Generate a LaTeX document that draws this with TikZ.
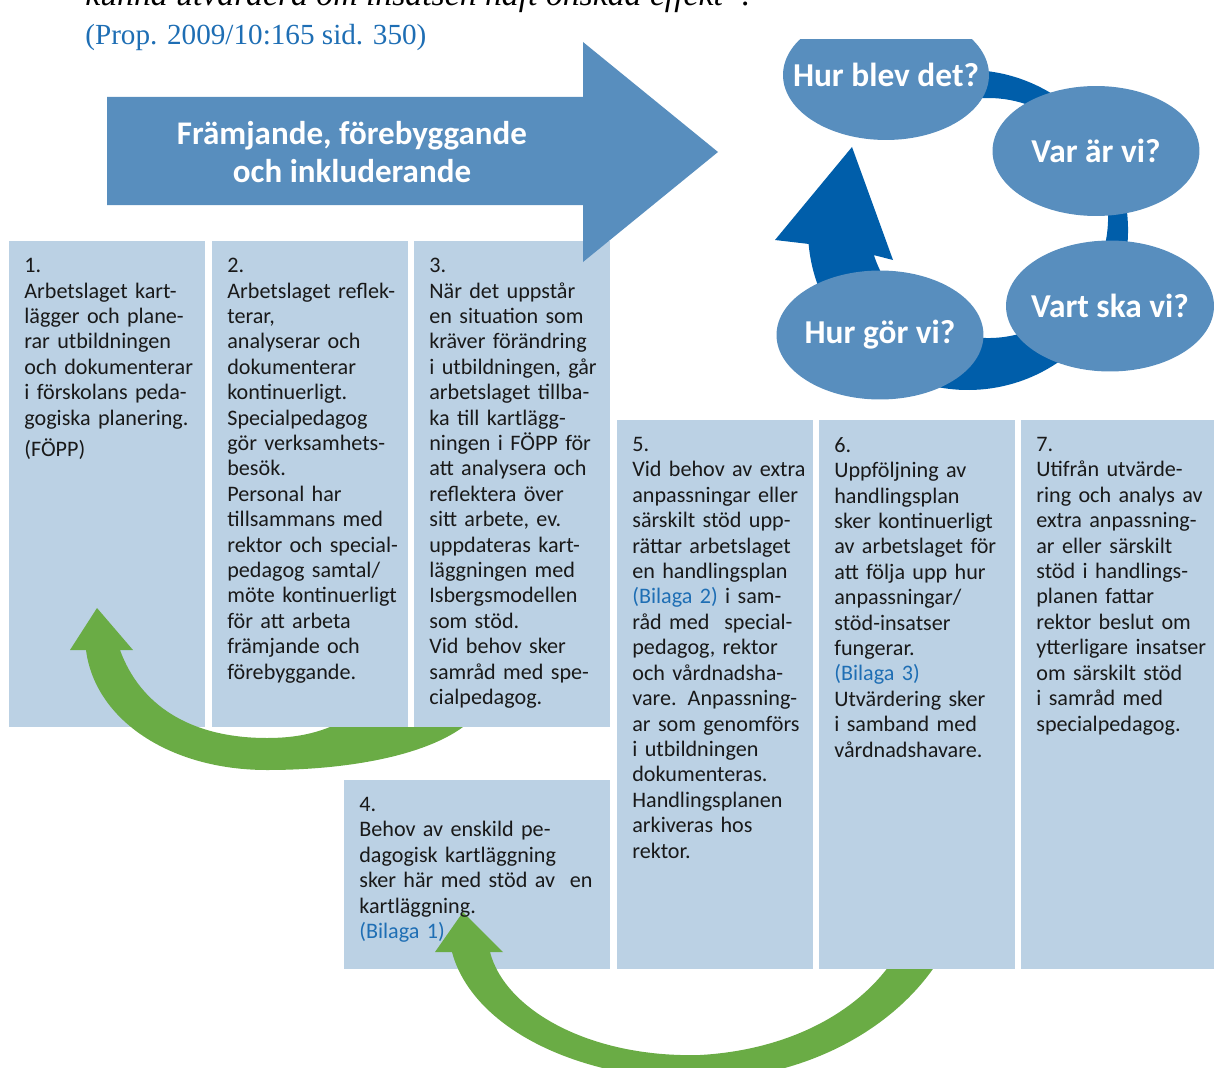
\documentclass[tikz,border=0pt]{standalone}
\usepackage{fontspec}
\setmainfont{Carlito}
\newfontfamily\propfont{Liberation Serif}
\usetikzlibrary{positioning,shapes.geometric}

\definecolor{boxblue}{RGB}{187,209,228}
\definecolor{steelblue}{RGB}{88,142,190}
\definecolor{ringblue}{RGB}{0,94,170}
\definecolor{leafgreen}{RGB}{106,172,69}
\definecolor{linkblue}{RGB}{30,110,180}
\definecolor{inktext}{RGB}{25,25,25}

\tikzset{
  stepbox/.style={fill=boxblue, inner sep=0, anchor=north west},
  steptext/.style={inner sep=0, align=left, text width=5cm, text=inktext,
    font=\fontsize{12.6}{14.46}\selectfont},
  question/.style={ellipse, fill=steelblue, text=white, inner sep=0,
    font=\fontsize{19}{22}\selectfont\bfseries},
}
\newcommand{\bilaga}[1]{\textcolor{linkblue}{(Bilaga #1)}}
\newcommand{\qtext}[1]{\makebox[0pt]{#1}}

\begin{document}
\begin{tikzpicture}[x=0.02cm, y=-0.02cm]
		\useasboundingbox (0,0) rectangle (1214,1068);
		\clip (0,0) rectangle (1214,1068);

		% quote above
		\node[anchor=base west, inner sep=0, font=\propfont\itshape\fontsize{19.2}{22}\selectfont] (quote) at (85,6) {kunna utvärdera om insatsen haft önskad effekt”.};
		\node[anchor=base west, inner sep=0, text=linkblue, font=\propfont\fontsize{16.6}{19}\selectfont] (prop) at (85,45) {(Prop. 2009/10:165 sid. 350)};

		% boxes under the arrows
		\node[stepbox, minimum width=3.92cm, minimum height=9.72cm] (b1) at (9,241) {};
		\node[stepbox, minimum width=5.32cm, minimum height=3.78cm] (b4) at (344,780) {};
		\node[stepbox, minimum width=3.92cm, minimum height=10.98cm] (b5) at (617,420) {};
		\node[stepbox, minimum width=3.86cm, minimum height=10.98cm] (b7) at (1021,420) {};

		% green arrows
		\fill[leafgreen] (86,650) .. controls (95,720) and (170,770) .. (267,770)
			.. controls (350,770) and (425,755) .. (463,727) -- (330,727)
			.. controls (310,735) and (290,738) .. (267,738)
			.. controls (190,738) and (140,705) .. (120,650)
			-- (133,650) -- (97,608) -- (70,650) -- cycle;
		\fill[leafgreen] (452,952) .. controls (470,1020) and (560,1075) .. (690,1080)
			.. controls (800,1082) and (900,1030) .. (945,950) -- (905,940)
			.. controls (870,1010) and (790,1050) .. (700,1055)
			.. controls (590,1058) and (505,1010) .. (490,952)
			-- (503,952) -- (463,912) -- (435,952) -- cycle;

		% boxes over the arrows
		\node[stepbox, minimum width=3.92cm, minimum height=9.72cm] (b2) at (212,241) {};
		\node[stepbox, minimum width=3.92cm, minimum height=9.72cm] (b3) at (414,241) {};
		\node[stepbox, minimum width=3.92cm, minimum height=10.98cm] (b6) at (819,420) {};

		% big arrow
		\fill[steelblue] (107,97) -- (583,97) -- (583,42) -- (718,152) -- (583,262) -- (583,205) -- (107,205) -- cycle;
		\node[text=white, align=center, inner sep=0, font=\fontsize{18.8}{22}\selectfont\bfseries] (flowtext) at (352,152) {Främjande, förebyggande\\och inkluderande};

		% texts
		\node[steptext, below right=0.34cm and 0.3cm of b1.north west] (t1) {1.\\Arbetslaget kart-\\lägger och plane-\\rar utbildningen\\och dokumenterar\\i förskolans peda-\\gogiska planering.\\[0.12cm](FÖPP)};
		\node[steptext, below right=0.34cm and 0.3cm of b2.north west] (t2) {2.\\Arbetslaget reflek-\\terar,\\analyserar och\\dokumenterar\\kontinuerligt.\\Specialpedagog\\gör verksamhets-\\besök.\\Personal har\\tillsammans med\\rektor och special-\\pedagog samtal/\\möte kontinuerligt\\för att arbeta\\främjande och\\förebyggande.};
		\node[steptext, below right=0.34cm and 0.3cm of b3.north west] (t3) {3.\\När det uppstår\\en situation som\\kräver förändring\\i utbildningen, går\\arbetslaget tillba-\\ka till kartlägg-\\ningen i FÖPP för\\att analysera och\\reflektera över\\sitt arbete, ev.\\uppdateras kart-\\läggningen med\\Isbergsmodellen\\som stöd.\\Vid behov sker\\samråd med spe-\\cialpedagog.};
		\node[steptext, below right=0.34cm and 0.3cm of b4.north west] (t4) {4.\\Behov av enskild pe-\\dagogisk kartläggning\\sker här med stöd av~ en\\kartläggning.\\\bilaga{1}};
		\node[steptext, below right=0.34cm and 0.3cm of b5.north west] (t5) {5.\\Vid behov av extra\\anpassningar eller\\särskilt stöd upp-\\rättar arbetslaget\\en handlingsplan\\\bilaga{2} i sam-\\råd med~ special-\\pedagog, rektor\\och vårdnadsha-\\vare. Anpassning-\\ar som genomförs\\i utbildningen\\dokumenteras.\\Handlingsplanen\\arkiveras hos\\rektor.};
		\node[steptext, below right=0.34cm and 0.3cm of b6.north west] (t6) {6.\\Uppföljning av\\handlingsplan\\sker kontinuerligt\\av arbetslaget för\\att följa upp hur\\anpassningar/\\stöd-insatser\\fungerar.\\\bilaga{3}\\Utvärdering sker\\i samband med\\vårdnadshavare.};
		\node[steptext, below right=0.34cm and 0.3cm of b7.north west] (t7) {7.\\Utifrån utvärde-\\ring och analys av\\extra anpassning-\\ar eller särskilt\\stöd i handlings-\\planen fattar\\rektor beslut om\\ytterligare insatser\\om särskilt stöd\\i samråd med\\specialpedagog.};

		% cycle
		\fill[ringblue] (968,230) ++(-100:160) arc[start angle=-100, end angle=175, radius=160]
			-- (775,240) -- (852,147) -- (893,260) -- (873.9,255.1)
			arc[start angle=162, end angle=-100, radius=120] -- cycle;
		\begin{scope}
			\clip (0,40) rectangle (1214,1068);
			\node[question, minimum width=4.12cm, minimum height=2.6cm] (blev) at (886,75) {\qtext{Hur blev det?}};
		\end{scope}
		\node[question, minimum width=4.14cm, minimum height=2.6cm] (var) at (1096,151) {\qtext{Var är vi?}};
		\node[question, minimum width=4.16cm, minimum height=2.62cm] (vart) at (1110,306) {\qtext{Vart ska vi?}};
		\node[question, minimum width=4.14cm, minimum height=2.58cm] (gor) at (880,335) {\qtext{Hur gör vi?}};
\end{tikzpicture}
\end{document}
